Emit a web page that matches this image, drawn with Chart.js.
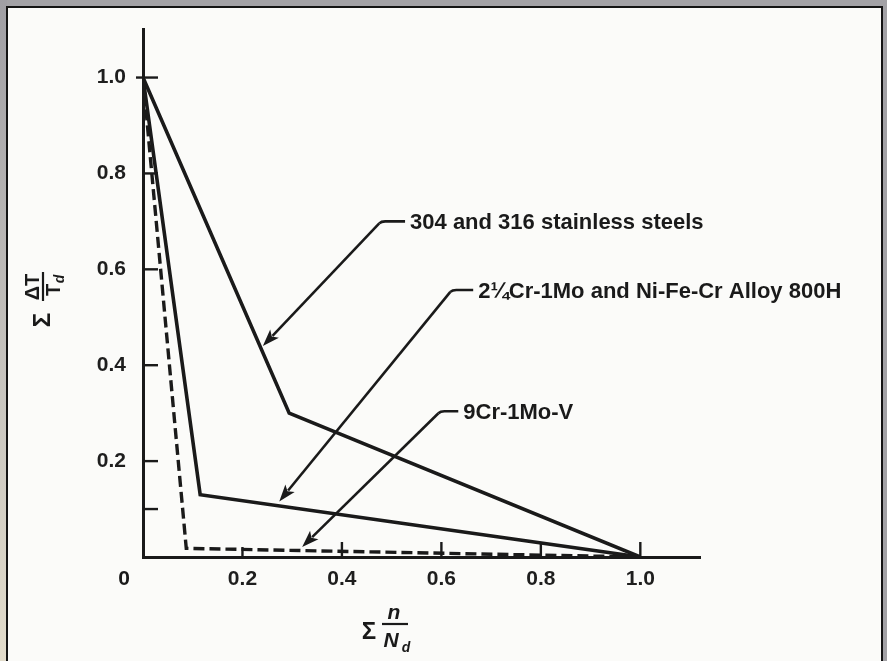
<!DOCTYPE html>
<html>
<head>
<meta charset="utf-8">
<script src="https://cdn.jsdelivr.net/npm/chart.js@4.4.1/dist/chart.umd.min.js"></script>
<style>
  html, body { margin: 0; padding: 0; }
  body { width: 887px; height: 661px; background: #a3a2a6; position: relative; overflow: hidden; }
  #leftStrip { position: absolute; left: 0; top: 0; width: 7px; height: 661px;
    background: linear-gradient(#a09fa4, #c9c6c0 60%, #e2dccb); }
  #panel { position: absolute; left: 6px; top: 6px; width: 873px; height: 660px;
    border: 2px solid #141414; border-bottom: none; background: #fbfbf9; }
  #wrap { position: absolute; left: 0; top: 0; width: 887px; height: 661px; }
</style>
</head>
<body>
<div id="leftStrip"></div>
<div id="panel"></div>
<div id="wrap"><canvas id="myChart"></canvas></div>
<script>
// curves: sum(n/Nd) vs sum(dT/Td)
const steelX = [0, 0.294, 1.0];
const steelY = [1.0, 0.30, 0.0];
const crMoX = [0, 0.115, 1.0];
const crMoY = [1.0, 0.13, 0.0];
const crMoVX = [0, 0.087, 1.0];
const crMoVY = [1.0, 0.018, 0.0];

const seriesNames = ['304 and 316 stainless steels', '2\u00BCCr-1Mo and Ni-Fe-Cr Alloy 800H', '9Cr-1Mo-V'];

const xTickValues = [0, 0.2, 0.4, 0.6, 0.8, 1.0];
const xTickLabels = ['0', '0.2', '0.4', '0.6', '0.8', '1.0'];
const yTickValues = [0.1, 0.2, 0.4, 0.6, 0.8, 1.0];
const yTickLabels = ['', '0.2', '0.4', '0.6', '0.8', '1.0'];

const ink = '#1a1a1a';
const fam = "'Liberation Sans', Arial, sans-serif";

function pts(xs, ys) {
  return xs.map((x, i) => ({ x: x, y: ys[i] }));
}

// callouts, in data units (tip of arrow, elbow, text start)
const callouts = [
  { tip: [0.241, 0.44], bend: [0.479, 0.70], text: 0.537 },
  { tip: [0.274, 0.116], bend: [0.622, 0.557], text: 0.674 },
  { tip: [0.32, 0.021], bend: [0.598, 0.304], text: 0.644 }
];

function arrow(ctx, x1, y1, x2, y2) {
  const a = Math.atan2(y2 - y1, x2 - x1);
  const len = 17, w = 6;
  ctx.beginPath();
  ctx.moveTo(x1, y1);
  ctx.lineTo(x2 - Math.cos(a) * (len - 3), y2 - Math.sin(a) * (len - 3));
  ctx.stroke();
  ctx.beginPath();
  ctx.moveTo(x2, y2);
  ctx.lineTo(x2 - Math.cos(a) * len - Math.sin(a) * w, y2 - Math.sin(a) * len + Math.cos(a) * w);
  ctx.lineTo(x2 - Math.cos(a) * (len - 4), y2 - Math.sin(a) * (len - 4));
  ctx.lineTo(x2 - Math.cos(a) * len + Math.sin(a) * w, y2 - Math.sin(a) * len - Math.cos(a) * w);
  ctx.closePath();
  ctx.fill();
}

const extras = {
  id: 'extras',
  afterDatasetsDraw(chart) {
    const ctx = chart.ctx;
    const xs = chart.scales.x, ys = chart.scales.y;
    const x0 = xs.getPixelForValue(0), y0 = ys.getPixelForValue(0);
    ctx.save();
    ctx.strokeStyle = ink;
    ctx.fillStyle = ink;

    // inward tick marks
    ctx.lineWidth = 2.4;
    yTickValues.forEach(v => {
      const py = ys.getPixelForValue(v);
      ctx.beginPath();
      ctx.moveTo(v === 1.0 ? x0 - 7 : x0, py);
      ctx.lineTo(x0 + 15, py);
      ctx.stroke();
    });
    xTickValues.slice(1).forEach(v => {
      const px = xs.getPixelForValue(v);
      ctx.beginPath();
      ctx.moveTo(px, y0);
      ctx.lineTo(px, y0 - (v === 0.2 ? 10 : 15));
      ctx.stroke();
    });

    // origin label sits left of the axis
    ctx.font = 'bold 21px ' + fam;
    ctx.textAlign = 'center';
    ctx.textBaseline = 'middle';
    ctx.fillText(xTickLabels[0], x0 - 19, y0 + 22);

    // x title: sum n / N_d
    ctx.font = 'bold 24px ' + fam;
    ctx.fillText('\u03A3', 369, 632);
    ctx.font = 'italic bold 21px ' + fam;
    ctx.fillText('n', 394, 613);
    ctx.lineWidth = 2.2;
    ctx.beginPath(); ctx.moveTo(382, 624); ctx.lineTo(408, 624); ctx.stroke();
    ctx.fillText('N', 391, 641);
    ctx.font = 'italic bold 14px ' + fam;
    ctx.fillText('d', 406, 648);

    // y title: sum dT / T_d, rotated
    ctx.save();
    ctx.translate(43, 293);
    ctx.rotate(-Math.PI / 2);
    ctx.font = 'bold 24px ' + fam;
    ctx.fillText('\u03A3', -27, 0);
    ctx.font = 'bold 20px ' + fam;
    ctx.fillText('\u0394T', 6, -10);
    ctx.beginPath(); ctx.moveTo(-8, 0); ctx.lineTo(21, 0); ctx.stroke();
    ctx.fillText('T', 3, 11);
    ctx.font = 'italic bold 14px ' + fam;
    ctx.fillText('d', 14, 17);
    ctx.restore();

    // callouts
    ctx.lineWidth = 2.6;
    ctx.font = 'bold 22px ' + fam;
    ctx.textAlign = 'left';
    callouts.forEach((c, i) => {
      const tx = xs.getPixelForValue(c.tip[0]), ty = ys.getPixelForValue(c.tip[1]);
      const bx = xs.getPixelForValue(c.bend[0]), by = ys.getPixelForValue(c.bend[1]);
      const lx = xs.getPixelForValue(c.text);
      ctx.beginPath();
      ctx.moveTo(lx - 5, by);
      ctx.lineTo(bx + 4, by);
      ctx.quadraticCurveTo(bx, by, bx - 2, by + 2);
      ctx.stroke();
      arrow(ctx, bx - 2, by + 2, tx, ty);
      ctx.fillText(seriesNames[i], lx, by + 2);
    });
    ctx.restore();
  }
};

const data = {
  datasets: [
    { label: seriesNames[0], data: pts(steelX, steelY), borderColor: ink, borderWidth: 3.6 },
    { label: seriesNames[1], data: pts(crMoX, crMoY), borderColor: ink, borderWidth: 3.6 },
    { label: seriesNames[2], data: pts(crMoVX, crMoVY), borderColor: ink, borderWidth: 3.4, borderDash: [11, 5] }
  ]
};

const config = {
  type: 'line',
  data,
  options: {
    responsive: true,
    maintainAspectRatio: false,
    animation: false,
    layout: { padding: { left: 0, top: 26, right: 187, bottom: 0 } },
    elements: { point: { radius: 0 }, line: { tension: 0, borderJoinStyle: 'miter' } },
    scales: {
      x: {
        type: 'linear',
        min: 0,
        max: 1.12,
        afterFit: s => { s.height = 104; },
        afterBuildTicks: s => { s.ticks = xTickValues.map(v => ({ value: v })); },
        grid: { display: false, drawTicks: false },
        border: { display: true, color: ink, width: 3 },
        ticks: {
          padding: 10,
          color: '#1e1e1e',
          font: { family: fam, size: 21, weight: 'bold' },
          callback: (v, i) => (i === 0 ? '' : xTickLabels[i])
        }
      },
      y: {
        type: 'linear',
        min: 0,
        max: 1.1,
        afterFit: s => { s.width = 143; },
        afterBuildTicks: s => { s.ticks = yTickValues.map(v => ({ value: v })); },
        grid: { display: false, drawTicks: false },
        border: { display: true, color: ink, width: 3 },
        ticks: {
          padding: 17,
          color: '#1e1e1e',
          font: { family: fam, size: 21, weight: 'bold' },
          callback: (v, i) => yTickLabels[i]
        }
      }
    },
    plugins: {
      legend: { display: false },
      tooltip: { enabled: false }
    }
  },
  plugins: [extras]
};

const myChart = new Chart(document.getElementById('myChart'), config);
</script>
</body>
</html>
